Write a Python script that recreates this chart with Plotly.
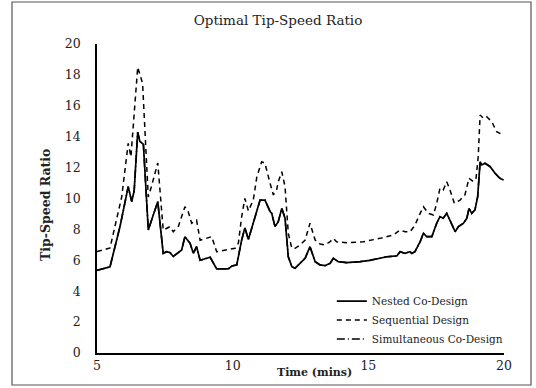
import plotly.graph_objects as go

# ---- data ----
time_nested = [5.0, 5.48, 5.85, 6.15, 6.28, 6.37, 6.5, 6.58, 6.71, 6.89, 7.24, 7.44, 7.57, 7.69,
               7.81, 8.12, 8.24, 8.43, 8.55, 8.67, 8.8, 8.98, 9.17, 9.41, 9.84, 9.97, 10.15, 10.33,
               10.45, 10.58, 10.82, 11.01, 11.19, 11.38, 11.44, 11.56, 11.68, 11.81, 11.93, 12.05,
               12.18, 12.3, 12.48, 12.67, 12.85, 13.04, 13.22, 13.4, 13.59, 13.71, 13.89, 14.2,
               14.69, 15.06, 15.68, 16.05, 16.17, 16.35, 16.54, 16.6, 16.72, 16.91, 17.03, 17.15,
               17.34, 17.52, 17.64, 17.76, 17.89, 18.07, 18.2, 18.32, 18.5, 18.63, 18.71, 18.81,
               18.93, 19.03, 19.12, 19.18, 19.3, 19.49, 19.67, 19.85, 19.98]
tsr_nested = [5.35, 5.58, 8.2, 10.77, 9.8, 10.5, 14.3, 13.7, 13.5, 7.96, 9.8, 6.45, 6.56, 6.5,
              6.25, 6.67, 7.53, 7.1, 6.45, 6.88, 6.0, 6.1, 6.2, 5.45, 5.45, 5.63, 5.7, 7.3,
              8.1, 7.35, 8.82, 9.9, 9.9, 9.15, 9.04, 8.18, 8.5, 9.36, 8.72, 6.23,
              5.59, 5.48, 5.8, 6.13, 6.88, 5.91, 5.7, 5.65, 5.8, 6.13, 5.91, 5.85,
              5.91, 6.0, 6.23, 6.28, 6.56, 6.45, 6.56, 6.45, 6.56, 7.2, 7.75, 7.53,
              7.53, 8.4, 8.82, 8.72, 9.04, 8.28, 7.85, 8.18, 8.39, 8.72, 9.36, 9.04,
              9.26, 10.12, 12.38, 12.17, 12.28, 12.06, 11.63, 11.31, 11.2]

time_sequential = [5.0, 5.48, 5.91, 6.15, 6.25, 6.5, 6.68, 6.89, 7.01, 7.24, 7.44, 7.57, 7.69,
                   7.81, 8.0, 8.24, 8.36, 8.49, 8.67, 8.8, 9.05, 9.23, 9.41, 9.72, 10.09, 10.21,
                   10.33, 10.45, 10.58, 10.76, 10.89, 11.07, 11.19, 11.38, 11.5, 11.62, 11.68,
                   11.81, 11.93, 12.05, 12.18, 12.3, 12.48, 12.67, 12.85, 13.04, 13.22, 13.4,
                   13.59, 13.71, 13.83, 14.2, 14.81, 15.43, 15.92, 16.17, 16.35, 16.54, 16.72,
                   16.91, 17.03, 17.21, 17.4, 17.52, 17.64, 17.76, 17.89, 18.01, 18.17, 18.38,
                   18.56, 18.71, 18.87, 18.97, 19.05, 19.12, 19.24, 19.36, 19.55, 19.73, 19.98]
tsr_sequential = [6.56, 6.8, 10.1, 13.57, 12.7, 18.5, 17.45, 10.1, 10.8, 12.3, 7.96, 8.1, 8.18,
                  7.85, 8.2, 9.47, 9.15, 8.4, 8.6, 7.3, 7.42, 7.53, 6.56, 6.67, 6.78, 7.1,
                  8.8, 10.0, 9.2, 9.9, 11.4, 12.38, 12.28, 10.98, 10.23, 10.55, 11.09,
                  11.73, 10.77, 7.75, 6.78, 6.78, 6.99, 7.31, 8.4, 7.31, 7.05, 6.99,
                  7.2, 7.42, 7.2, 7.14, 7.2, 7.42, 7.64, 7.96, 7.85, 7.85, 8.28,
                  9.04, 9.47, 9.04, 8.93, 9.69, 10.66, 10.55, 11.09, 10.55, 9.69, 9.9,
                  10.23, 11.31, 11.09, 11.31, 12.7, 15.4, 15.19, 15.3, 14.97, 14.32, 14.1]

# Simultaneous co-design coincides with the nested result
time_simultaneous = time_nested
tsr_simultaneous = tsr_nested

x_ticks = [5, 10, 15, 20]
y_ticks = [0, 2, 4, 6, 8, 10, 12, 14, 16, 18, 20]

FONT = "DejaVu Serif"

fig = go.Figure()
fig.add_trace(go.Scatter(x=time_simultaneous, y=tsr_simultaneous, mode="lines",
                         name="Simultaneous Co-Design",
                         line=dict(color="black", width=1.6, dash="8px,3px,1px,3px")))
fig.add_trace(go.Scatter(x=time_sequential, y=tsr_sequential, mode="lines",
                         name="Sequential Design",
                         line=dict(color="black", width=1.5, dash="5px,4px")))
fig.add_trace(go.Scatter(x=time_nested, y=tsr_nested, mode="lines",
                         name="Nested Co-Design",
                         line=dict(color="black", width=1.7)))

fig.update_layout(
    width=536, height=388,
    margin=dict(l=97, r=32, t=44, b=35),
    paper_bgcolor="white", plot_bgcolor="white",
    font=dict(family=FONT, color="#222222", size=12),
    showlegend=True,
    legend=dict(x=0.577, y=0.215, xanchor="left", yanchor="top",
                traceorder="reversed", bgcolor="rgba(0,0,0,0)",
                font=dict(family=FONT, size=10.5, color="#222222"),
                itemwidth=30),
    title=dict(text="Optimal Tip-Speed Ratio", x=278/536, xanchor="center",
               y=1 - 20/388, yanchor="middle", font=dict(family=FONT, size=13.5)),
)
fig.update_xaxes(range=[5, 20], tickvals=x_ticks, ticks="", showgrid=False, zeroline=False,
                 showline=True, linecolor="black", linewidth=1.5,
                 tickfont=dict(family=FONT, size=12.5))
fig.update_yaxes(range=[0, 20], tickvals=y_ticks, ticks="", showgrid=False, zeroline=False,
                 showline=True, linecolor="black", linewidth=1.5,
                 tickfont=dict(family=FONT, size=12.5), ticklabelstandoff=12)

# axis titles
fig.add_annotation(text="<b>Time (mins)</b>", xref="paper", yref="paper",
                   x=(314 - 97) / 407, y=(353 - 373) / 309, xanchor="center", yanchor="middle",
                   showarrow=False, font=dict(family=FONT, size=11))
fig.add_annotation(text="<b>Tip-Speed Ratio</b>", xref="paper", yref="paper",
                   x=(45 - 97) / 407, y=(353 - 205) / 309, xanchor="center", yanchor="middle",
                   textangle=-90, showarrow=False, font=dict(family=FONT, size=12.5))

# outer frame
fig.add_shape(type="rect", xref="paper", yref="paper",
              x0=(12 - 97) / 407, x1=(531 - 97) / 407,
              y0=(353 - 385) / 309, y1=(353 - 2) / 309,
              line=dict(color="#555555", width=1.2), fillcolor="rgba(0,0,0,0)", layer="below")

fig.write_html("out.html")
